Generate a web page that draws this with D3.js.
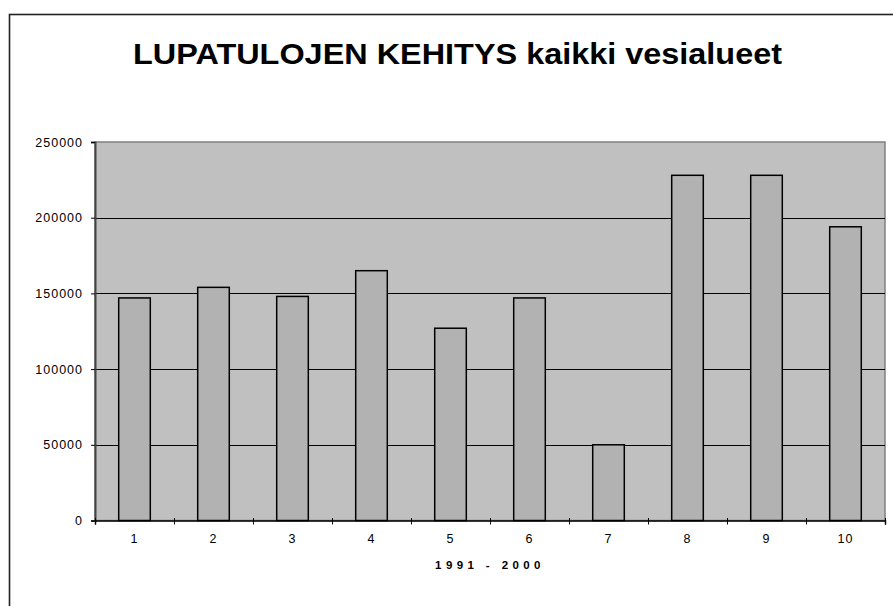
<!DOCTYPE html>
<html>
<head>
<meta charset="utf-8">
<script src="https://cdn.jsdelivr.net/npm/d3@7"></script>
<style>
  body { margin: 0; background: #fff; }
  svg { display: block; font-family: "Liberation Sans", Arial, sans-serif; }
</style>
</head>
<body>
<div id="chart"></div>
<script>
// data
const categories = ["1", "2", "3", "4", "5", "6", "7", "8", "9", "10"]
const values = [147000, 154000, 148000, 165000, 127000, 147000, 50000, 228000, 228000, 194000]
const yTicks = [0, 50000, 100000, 150000, 200000, 250000]
const title = "LUPATULOJEN KEHITYS kaikki vesialueet"
const xTitle = "1991 - 2000"

// constants
const width = 893
const height = 606
const plot = { left: 95, right: 885, top: 142, bottom: 520.5 }

const svg = d3.select("div#chart")
    .append("svg")
    .attr("width", width)
    .attr("height", height)

// chart border (runs off the page on right and bottom)
svg.append("rect")
    .attr("x", 9.5).attr("y", 14.5)
    .attr("width", 920).attr("height", 620)
    .attr("fill", "#fff")
    .attr("stroke", "#222")
    .attr("stroke-width", 1.6)

svg.append("text")
    .attr("x", 457.5).attr("y", 63.5)
    .attr("text-anchor", "middle")
    .attr("font-size", 30)
    .attr("font-weight", "bold")
    .attr("textLength", 649)
    .attr("lengthAdjust", "spacingAndGlyphs")
    .text(title)

// scales
const x = d3.scaleBand()
    .domain(categories)
    .range([plot.left, plot.right])
    .paddingInner(0.6)
    .paddingOuter(0.3)
const xEdge = d3.scaleLinear()
    .domain([0, categories.length])
    .range([plot.left, plot.right])
const y = d3.scaleLinear()
    .domain([0, 250000])
    .range([plot.bottom, plot.top])

// plot area
svg.append("rect")
    .attr("x", plot.left).attr("y", plot.top)
    .attr("width", plot.right - plot.left)
    .attr("height", plot.bottom - plot.top)
    .attr("fill", "#c0c0c0")
    .attr("stroke", "#808080")
    .attr("stroke-width", 1.5)

// gridlines
svg.append("g")
    .selectAll("line")
    .data(yTicks.filter(d => d > 0 && d < 250000))
    .join("line")
    .attr("x1", plot.left).attr("x2", plot.right)
    .attr("y1", d => Math.round(y(d)) + 0.5)
    .attr("y2", d => Math.round(y(d)) + 0.5)
    .attr("stroke", "#000")
    .attr("stroke-width", 1)

// bars
svg.append("g")
    .selectAll("rect")
    .data(values)
    .join("rect")
    .attr("x", (d, i) => x(categories[i]))
    .attr("y", d => y(d))
    .attr("width", x.bandwidth())
    .attr("height", d => y(0) - y(d))
    .attr("fill", "#b2b2b2")
    .attr("stroke", "#000")
    .attr("stroke-width", 1.5)

// y axis
const yAxis = d3.axisLeft(y)
    .tickValues(yTicks)
    .tickSize(4)
    .tickPadding(8)
    .tickFormat(d3.format("d"))
const yAxisGroup = svg.append("g")
    .attr("transform", `translate(${plot.left},0)`)
    .call(yAxis)
yAxisGroup.select(".domain").attr("stroke", "#444").attr("stroke-width", 2)
yAxisGroup.selectAll(".tick line").attr("stroke", "#000")
yAxisGroup.selectAll("text")
    .attr("font-size", 12.5)
    .attr("letter-spacing", "1px")
    .attr("fill", "#000")
    .attr("font-family", "Liberation Sans, Arial, sans-serif")

// x axis: ticks at category edges, labels in the middle
const xTickAxis = d3.axisBottom(xEdge)
    .ticks(categories.length)
    .tickSize(4)
    .tickFormat("")
const xTickGroup = svg.append("g")
    .attr("transform", `translate(0,${plot.bottom})`)
    .call(xTickAxis)
xTickGroup.select(".domain").attr("stroke", "#000").attr("stroke-width", 1.5)
xTickGroup.selectAll(".tick line").attr("y1", -2.5).attr("stroke", "#000")

const xAxis = d3.axisBottom(x)
    .tickSize(0)
    .tickPadding(14)
const xAxisGroup = svg.append("g")
    .attr("transform", `translate(0,${plot.bottom})`)
    .call(xAxis)
xAxisGroup.select(".domain").remove()
xAxisGroup.selectAll("text")
    .attr("font-size", 12.5)
    .attr("letter-spacing", "1px")
    .attr("fill", "#000")
    .attr("font-family", "Liberation Sans, Arial, sans-serif")

svg.append("text")
    .attr("x", 490)
    .attr("y", 568.5)
    .attr("text-anchor", "middle")
    .attr("font-size", 11.5)
    .attr("font-weight", "bold")
    .attr("letter-spacing", "4.4px")
    .text(xTitle)
</script>
</body>
</html>
